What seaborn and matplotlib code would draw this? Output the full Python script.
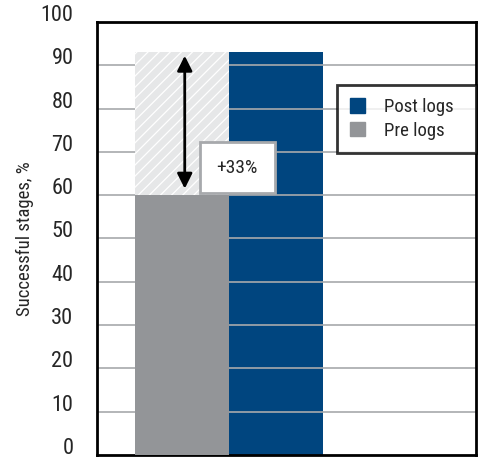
import matplotlib
matplotlib.use('Agg')
import matplotlib.pyplot as plt
import matplotlib.transforms as mtransforms
from matplotlib.patches import Patch
import seaborn as sns
import pandas as pd

stages = ['Pre logs', 'Post logs']
success = [60, 93]
gain_label = '+33%'
colors = {'Pre logs': '#939598', 'Post logs': '#00457f'}
yticks = [0, 10, 20, 30, 40, 50, 60, 70, 80, 90, 100]

df = pd.DataFrame({'stage': stages, 'success': success})

sns.set_style('white')
plt.rcParams['font.family'] = ['Roboto Condensed', 'DejaVu Sans']
plt.rcParams['hatch.linewidth'] = 0.9

fig = plt.figure(figsize=(4.84, 4.57), dpi=100)
ax = fig.add_axes([0.2004, 0.0044, 0.7826, 0.9476])

sns.barplot(data=df, x='stage', y='success', hue='stage', palette=colors,
            width=1, legend=False, ax=ax, saturation=1)
for p in ax.patches:
    p.set_linewidth(0)
ax.patches[0].set_zorder(3)
ax.patches[1].set_zorder(1)

# ghost bar showing the gap
ax.bar(0, success[1] - success[0], bottom=success[0], width=1,
       color='#e6e7e8', edgecolor='white', hatch='///', linewidth=0, zorder=3)

ax.set_xlim(-0.904, 3.128)
ax.set_ylim(0, 100)
ax.set_yticks(yticks)
for y in yticks[1:-1]:
    ax.axhline(y, color='#a7a9ac', lw=1.2, zorder=2)

ax.annotate('', xy=(0.03, 61.5), xytext=(0.03, 92.2),
            arrowprops=dict(arrowstyle='<|-|>,head_length=0.9,head_width=0.45',
                            color='black', lw=2, shrinkA=0, shrinkB=0), zorder=5)
ax.text(0.59, 66.3, gain_label, ha='center', va='center', fontsize=14, zorder=6,
        bbox=dict(boxstyle='square,pad=0.85', fc='white', ec='#a7a9ac', lw=2))

ax.set_xticks([])
ax.set_xlabel('')
ax.set_ylabel('Successful stages, %', fontsize=13.5, labelpad=5)
ax.tick_params(axis='y', length=0, labelsize=16, pad=17)
offset = mtransforms.ScaledTranslation(0, 0.09, fig.dpi_scale_trans)
for lab in ax.get_yticklabels():
    lab.set_transform(lab.get_transform() + offset)

for s in ax.spines.values():
    s.set_visible(True)
    s.set_color('black')
    s.set_linewidth(2)

handles = [Patch(color=colors['Post logs'], label='Post logs'),
           Patch(color=colors['Pre logs'], label='Pre logs')]
leg = ax.legend(handles=handles, loc='center', bbox_to_anchor=(0.633, 0.686, 0.367, 0.18),
                mode='expand', fontsize=13.5, handlelength=0.8, handleheight=0.8,
                frameon=True, fancybox=False, borderpad=0.7, labelspacing=0.3,
                handletextpad=1.0, borderaxespad=0)
leg.get_frame().set_edgecolor('black')
leg.get_frame().set_linewidth(2)
leg.set_zorder(7)

fig.savefig('out.png', dpi=100)
